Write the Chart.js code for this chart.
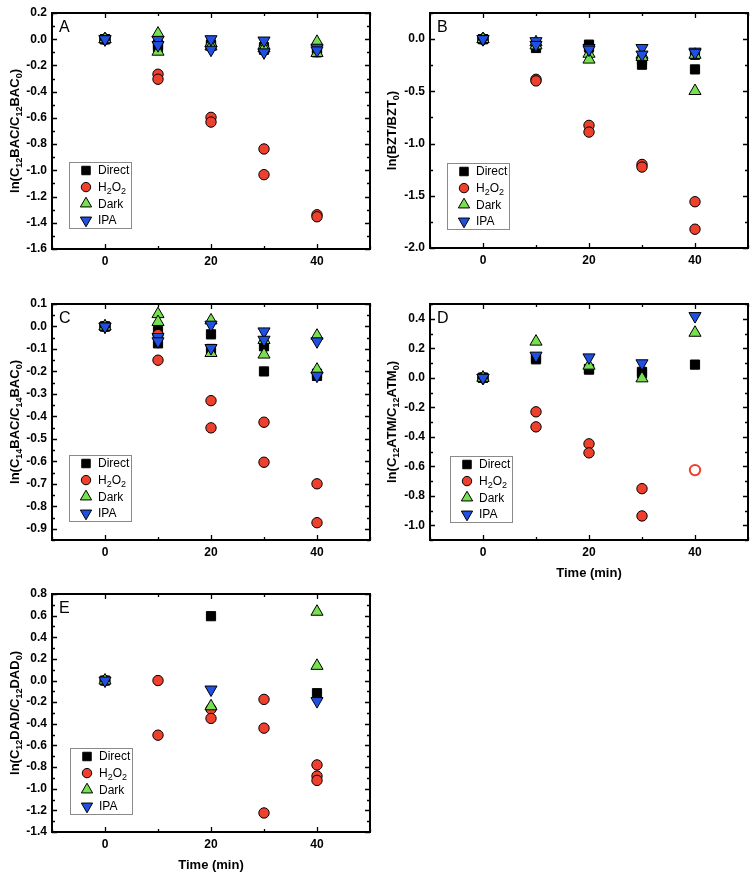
<!DOCTYPE html>
<html><head><meta charset="utf-8">
<script src="https://cdn.jsdelivr.net/npm/chart.js@4"></script>
<style>
html,body{margin:0;padding:0;background:#fff;}
body{width:756px;height:878px;position:relative;overflow:hidden;}
canvas{position:absolute;}
</style></head><body>
<canvas id="cA" width="378" height="290" style="left:0;top:0"></canvas>
<canvas id="cB" width="378" height="290" style="left:378px;top:0"></canvas>
<canvas id="cC" width="378" height="290" style="left:0;top:290px"></canvas>
<canvas id="cD" width="378" height="290" style="left:378px;top:290px"></canvas>
<canvas id="cE" width="378" height="298" style="left:0;top:580px"></canvas>
<script>
// ---------- data ----------
const seriesNames = ['Direct', 'H2O2', 'Dark', 'IPA'];
const xTickLabels = [0, 20, 40];
const timesPair = [0,0, 10,10, 20,20, 30,30, 40,40];
const timesTriple = [0,0,0, 10,10,10, 20,20,20, 30,30,30, 40,40,40];

const A_Direct = [0,0, -0.04,-0.06, -0.04,-0.05, -0.06,-0.08, -0.07,-0.10];
const A_H2O2   = [0,0, -0.267,-0.305, -0.596,-0.632, -0.837,-1.033, -1.339,-1.354];
const A_Dark   = [0,0, 0.043,-0.095, -0.03,-0.055, -0.05,-0.07, -0.02,-0.105];
const A_IPA    = [0,0, -0.005,-0.045, 0.0,-0.08, -0.01,-0.10, -0.065,-0.085];

const B_Direct = [0,0, -0.05,-0.085, -0.053,-0.08, -0.20,-0.245, -0.15,-0.29];
const B_H2O2   = [0,0, -0.385,-0.40, -0.826,-0.89, -1.20,-1.225, -1.557,-1.82];
const B_Dark   = [0,0, -0.03,-0.06, -0.14,-0.196, -0.15,-0.17, -0.15,-0.497];
const B_IPA    = [0,0, -0.02,-0.055, -0.085,-0.10, -0.085,-0.148, -0.12,-0.13];

const C_Direct = [0,0, -0.02,-0.075, -0.035,-0.10, -0.088,-0.20, -0.21,-0.22];
const C_H2O2   = [0,0, -0.036,-0.15, -0.33,-0.451, -0.426,-0.604, -0.70,-0.873];
const C_Dark   = [0,0, 0.055,0.02, 0.027,-0.118, -0.06,-0.125, -0.041,-0.192];
const C_IPA    = [0,0, -0.047,-0.066, 0.008,-0.096, -0.022,-0.059, -0.066,-0.219];

const D_Direct = [0,0, 0.125,0.135, 0.055,0.06, 0.03,0.04, 0.089,null];
const D_H2O2   = [0,0, -0.231,-0.333, -0.448,-0.509, -0.752,-0.937, -0.626,null];
const D_H2O2_open = [false,false, false,false, false,false, false,false, true,false];
const D_Dark   = [0,0, 0.245,null, 0.082,null, -0.004,null, 0.305,null];
const D_IPA    = [0,0, 0.15,null, 0.138,null, 0.098,null, 0.418,null];

const E_Direct = [0,null,null, null,null,null, 0.595,null,null, null,null,null, -0.117,null,null];
const E_H2O2   = [0,null,null, 0,-0.505,null, -0.263,-0.35,null, -0.174,-0.44,-1.224, -0.78,-0.883,-0.923];
const E_Dark   = [0,null,null, null,null,null, -0.238,null,null, null,null,null, 0.636,0.136,null];
const E_IPA    = [0,null,null, null,null,null, -0.083,null,null, null,null,null, -0.19,null,null];

// ---------- styling ----------
const FONT = "'Liberation Sans', Arial, Helvetica, sans-serif";
const RED = '#ef402d', GREEN = '#76e04e', BLUE = '#1f50e2';
const STYLES = [
  {pointStyle:'rect', radius:6.5, rotation:0, bg:'#000000'},
  {pointStyle:'circle', radius:5.2, rotation:0, bg:RED},
  {pointStyle:'triangle', radius:7, rotation:0, bg:GREEN},
  {pointStyle:'triangle', radius:7, rotation:180, bg:BLUE}
];
const legendLabels = [['Direct'], ['H','_2','O','_2'], ['Dark'], ['IPA']];

function pts(times, vals, openFlags){
  const out = [];
  vals.forEach((v,i)=>{ if(v !== null) out.push({x:times[i], y:v, open: openFlags ? openFlags[i] : false}); });
  return out;
}
function datasets(times, lists, openFlags){
  return lists.map((vals, k) => {
    const s = STYLES[k];
    return {
      label: seriesNames[k],
      data: pts(times, vals, k === 1 ? openFlags : null),
      showLine: false,
      order: 4 - k,
      pointStyle: s.pointStyle,
      pointRotation: s.rotation,
      pointRadius: s.radius,
      pointHoverRadius: s.radius,
      pointBackgroundColor: c => (c.raw && c.raw.open) ? '#ffffff' : s.bg,
      pointBorderColor: c => (c.raw && c.raw.open) ? RED : '#000000',
      pointBorderWidth: c => (c.raw && c.raw.open) ? 2 : 1
    };
  });
}

function drawRich(ctx, segs, x, y, size, bold, rotate, align){
  ctx.save();
  ctx.translate(x, y);
  if (rotate) ctx.rotate(-Math.PI/2);
  const w8 = bold ? 'bold ' : '';
  const mainF = w8 + size + 'px ' + FONT;
  const subF = w8 + Math.round(size*0.72) + 'px ' + FONT;
  let total = 0;
  segs.forEach(s => { const sub = s.startsWith('_'); ctx.font = sub ? subF : mainF; total += ctx.measureText(sub ? s.slice(1) : s).width; });
  let cx = align === 'left' ? 0 : -total/2;
  ctx.fillStyle = '#000';
  ctx.textBaseline = 'middle';
  ctx.textAlign = 'left';
  segs.forEach(s => {
    const sub = s.startsWith('_');
    const t = sub ? s.slice(1) : s;
    ctx.font = sub ? subF : mainF;
    ctx.fillText(t, cx, sub ? size*0.32 : 0);
    cx += ctx.measureText(t).width;
  });
  ctx.restore();
}

const framePlugin = {
  id: 'frame',
  afterDraw(chart, args, o){
    const ctx = chart.ctx, a = chart.chartArea, xs = chart.scales.x, ys = chart.scales.y;
    ctx.save();
    ctx.strokeStyle = '#000';
    ctx.lineWidth = 1.3;
    ctx.beginPath();
    for (let v = xs.min; v <= xs.max + 1e-9; v += o.xMinor){
      const r = v / o.xMajor, major = Math.abs(r - Math.round(r)) < 1e-6;
      const len = major ? 5 : 3;
      const px = Math.round(xs.getPixelForValue(v)) + 0.5;
      ctx.moveTo(px, a.bottom); ctx.lineTo(px, a.bottom - len);
      ctx.moveTo(px, a.top); ctx.lineTo(px, a.top + len);
    }
    const start = Math.ceil(ys.min / o.yMinor - 1e-6);
    for (let i = start; i * o.yMinor <= ys.max + 1e-9; i++){
      const v = i * o.yMinor;
      const r = v / o.yMajor, major = Math.abs(r - Math.round(r)) < 1e-6;
      const len = major ? 5 : 3;
      const py = Math.round(ys.getPixelForValue(v)) + 0.5;
      ctx.moveTo(a.left, py); ctx.lineTo(a.left + len, py);
      ctx.moveTo(a.right, py); ctx.lineTo(a.right - len, py);
    }
    ctx.stroke();
    ctx.lineWidth = 2;
    ctx.strokeRect(a.left, a.top, a.right - a.left, a.bottom - a.top);
    ctx.fillStyle = '#000';
    ctx.font = '16px ' + FONT;
    ctx.textBaseline = 'alphabetic';
    ctx.textAlign = 'left';
    ctx.fillText(o.letter, a.left + 7, a.top + 19);
    drawRich(ctx, o.yTitle, o.yTitleX, (a.top + a.bottom)/2, 13, true, true);
    if (o.xTitle) drawRich(ctx, [o.xTitle], (a.left + a.right)/2, a.bottom + 33, 13, true, false);
    const lx = a.left + o.legend[0], ly = a.top + o.legend[1];
    ctx.lineWidth = 1;
    ctx.strokeStyle = '#8a8a8a';
    ctx.strokeRect(lx + 0.5, ly + 0.5, 62, 66);
    for (let k = 0; k < 4; k++){
      const s = STYLES[k];
      const my = ly + 8.5 + k * 16.6;
      ctx.fillStyle = s.bg;
      ctx.strokeStyle = '#000';
      ctx.lineWidth = 1;
      Chart.helpers.drawPoint(ctx, {pointStyle: s.pointStyle, radius: s.radius - 0.5, rotation: s.rotation, borderWidth: 1}, lx + 17, my);
      drawRich(ctx, legendLabels[k], lx + 29, my + 0.5, 12, false, false, 'left');
    }
    ctx.restore();
  }
};

function makeChart(id, dsets, cfg){
  const yMajor = cfg.yMajor;
  return new Chart(document.getElementById(id), {
    type: 'scatter',
    data: { datasets: dsets },
    plugins: [framePlugin],
    options: {
      responsive: false,
      animation: false,
      devicePixelRatio: 1,
      layout: { padding: { top: cfg.padTop, right: cfg.padRight, left: 0, bottom: 0 } },
      plugins: {
        legend: { display: false },
        tooltip: { enabled: false },
        frame: cfg
      },
      scales: {
        x: {
          type: 'linear', min: -10, max: 50,
          afterFit: s => { s.height = cfg.xH; },
          grid: { display: false, drawTicks: false },
          border: { display: false },
          ticks: {
            stepSize: 10, autoSkip: false, maxRotation: 0, padding: 5,
            color: '#000', font: { family: FONT, size: 12, weight: 'bold' },
            callback: v => xTickLabels.includes(v) ? String(v) : ''
          }
        },
        y: {
          type: 'linear', min: cfg.yMin, max: cfg.yMax,
          afterFit: s => { s.width = cfg.yW; },
          grid: { display: false, drawTicks: false },
          border: { display: false },
          ticks: {
            stepSize: cfg.yMinor, autoSkip: false, padding: 5,
            color: '#000', font: { family: FONT, size: 12, weight: 'bold' },
            callback: v => {
              const r = v / yMajor;
              if (Math.abs(r - Math.round(r)) > 1e-6) return '';
              const t = (Math.round(r) * yMajor);
              return Math.abs(t) < 1e-9 ? '0.0' : t.toFixed(1);
            }
          }
        }
      }
    }
  });
}

makeChart('cA', datasets(timesPair, [A_Direct, A_H2O2, A_Dark, A_IPA]), {
  padTop: 13, padRight: 5, yW: 52, xH: 41, yMin: -1.6, yMax: 0.2, yMajor: 0.2, yMinor: 0.1,
  xMajor: 20, xMinor: 10, letter: 'A', yTitleX: 15, legend: [17, 149],
  yTitle: ['ln(C','_12','BAC/C','_12','BAC','_0',')']
});
makeChart('cB', datasets(timesPair, [B_Direct, B_H2O2, B_Dark, B_IPA]), {
  padTop: 13, padRight: 7, yW: 52, xH: 42, yMin: -2.0, yMax: 0.25, yMajor: 0.5, yMinor: 0.25,
  xMajor: 20, xMinor: 10, letter: 'B', yTitleX: 14, legend: [17, 150],
  yTitle: ['ln(BZT/BZT','_0',')']
});
makeChart('cC', datasets(timesPair, [C_Direct, C_H2O2, C_Dark, C_IPA]), {
  padTop: 14, padRight: 5, yW: 52, xH: 40, yMin: -0.95, yMax: 0.1, yMajor: 0.1, yMinor: 0.05,
  xMajor: 20, xMinor: 10, letter: 'C', yTitleX: 15, legend: [17, 151],
  yTitle: ['ln(C','_14','BAC/C','_14','BAC','_0',')']
});
makeChart('cD', datasets(timesPair, [D_Direct, D_H2O2, D_Dark, D_IPA], D_H2O2_open), {
  padTop: 14, padRight: 7, yW: 52, xH: 40, yMin: -1.1, yMax: 0.5, yMajor: 0.2, yMinor: 0.1,
  xMajor: 20, xMinor: 10, letter: 'D', yTitleX: 14, legend: [20, 152], xTitle: 'Time (min)',
  yTitle: ['ln(C','_12','ATM/C','_12','ATM','_0',')']
});
makeChart('cE', datasets(timesTriple, [E_Direct, E_H2O2, E_Dark, E_IPA]), {
  padTop: 14, padRight: 5, yW: 52, xH: 46, yMin: -1.4, yMax: 0.8, yMajor: 0.2, yMinor: 0.1,
  xMajor: 20, xMinor: 10, letter: 'E', yTitleX: 15, legend: [18, 154], xTitle: 'Time (min)',
  yTitle: ['ln(C','_12','DAD/C','_12','DAD','_0',')']
});
</script>
</body></html>
